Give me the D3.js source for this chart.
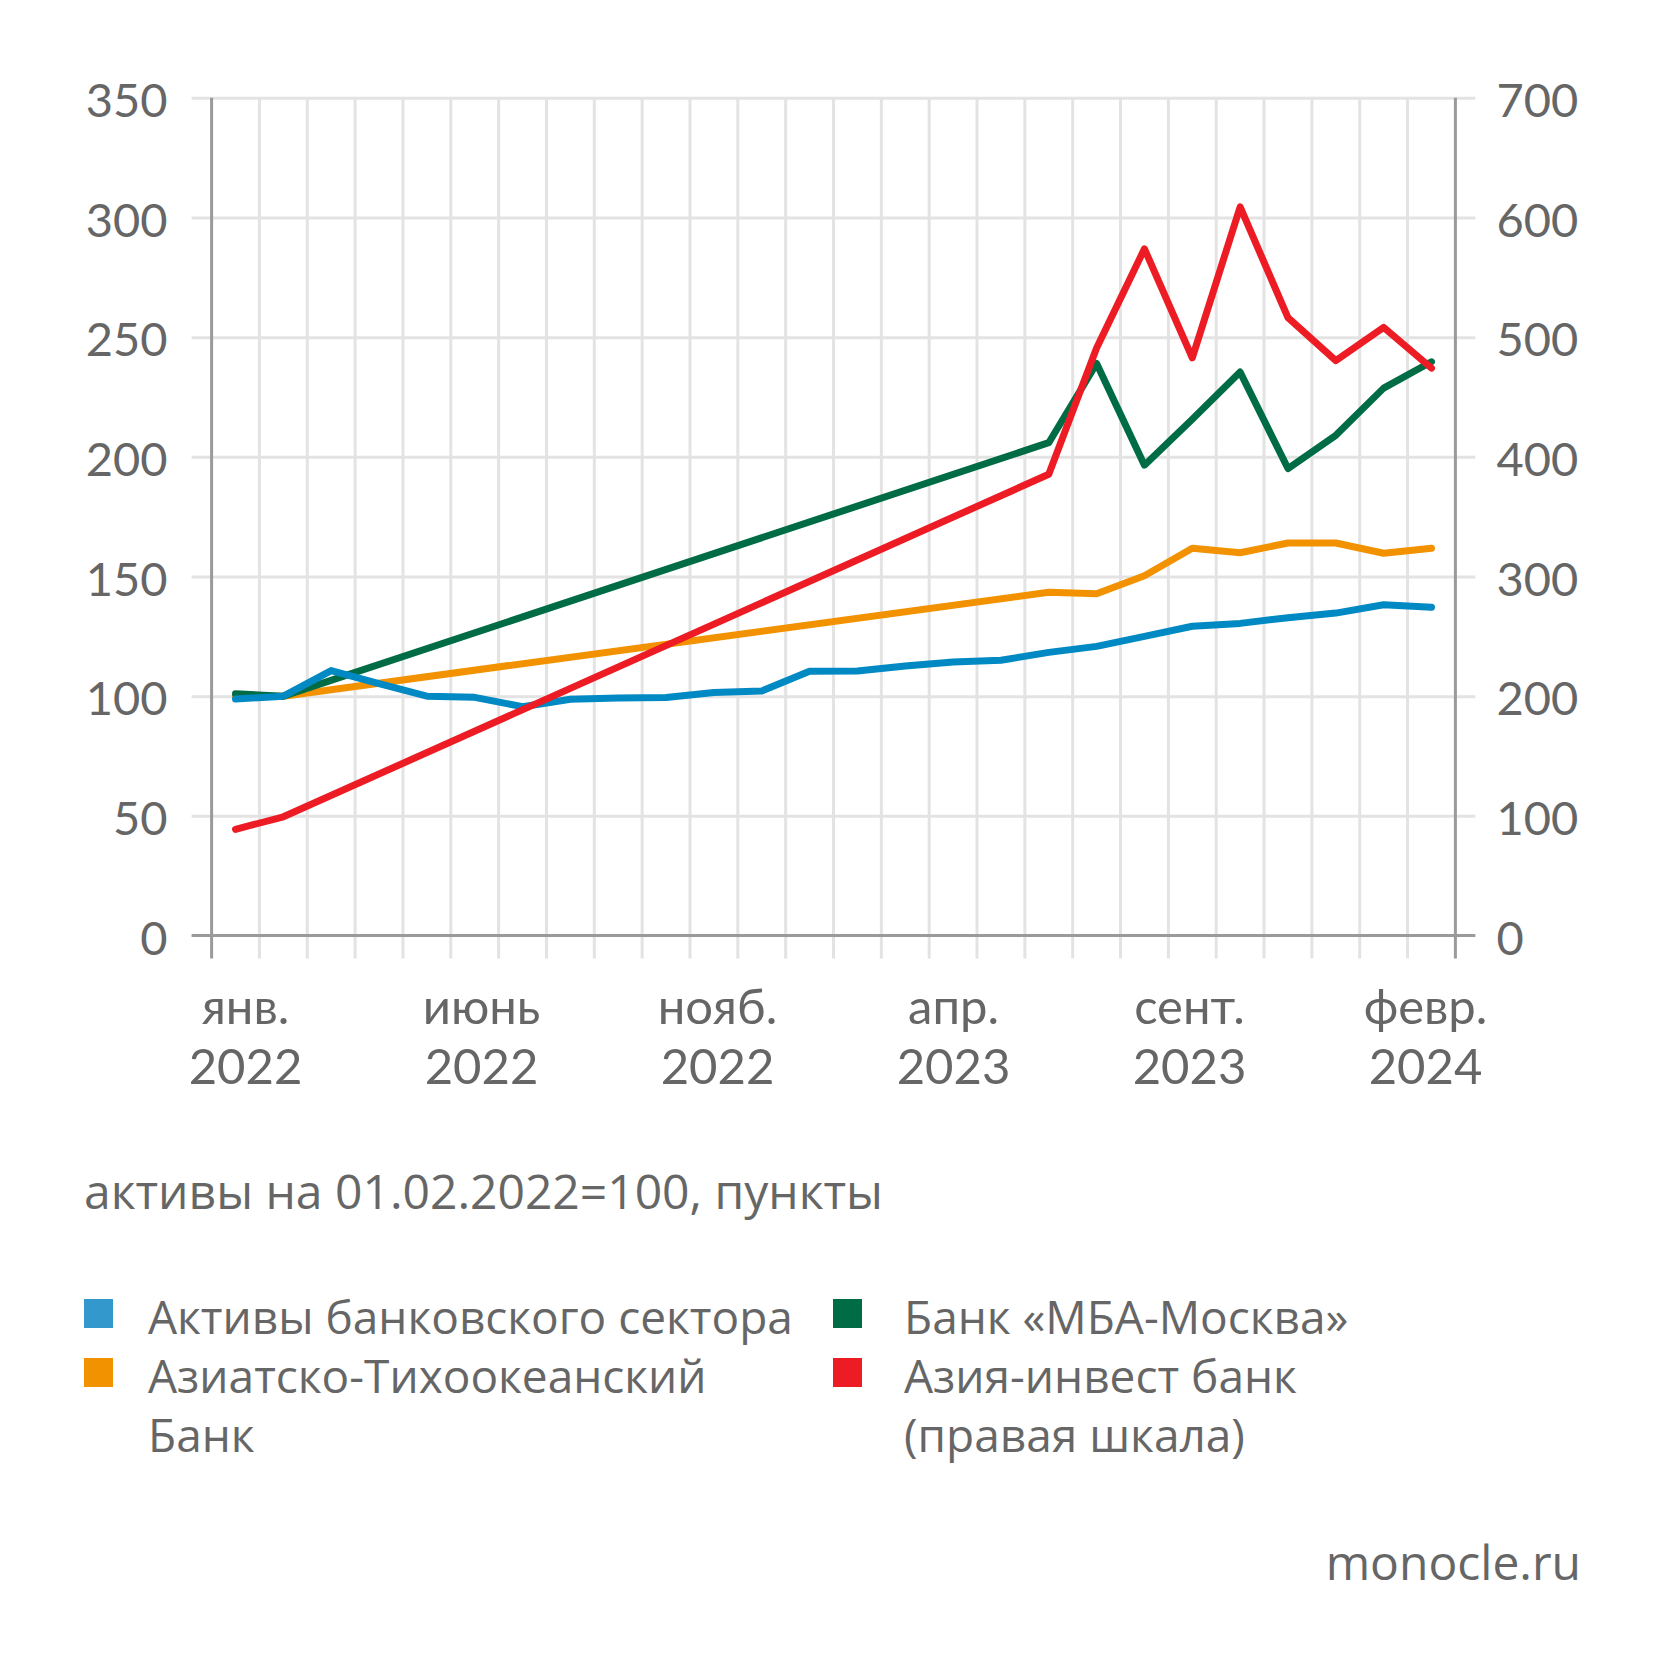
<!DOCTYPE html>
<html>
<head>
<meta charset="utf-8">
<script src="https://cdn.jsdelivr.net/npm/d3@7"></script>
<style>
  html, body { margin: 0; padding: 0; background: #ffffff; }
  svg { display: block; }
  text { font-family: "Open Sans", "Noto Sans", sans-serif; fill: #666666; }
  text.ax { font-family: Lato, "Open Sans", sans-serif; }
</style>
</head>
<body>
<svg id="chart" width="1667" height="1664"></svg>
<script>
// ---- data ----
const months = [
  "янв. 2022","февр. 2022","март 2022","апр. 2022","май 2022","июнь 2022",
  "июль 2022","авг. 2022","сент. 2022","окт. 2022","нояб. 2022","дек. 2022",
  "янв. 2023","февр. 2023","март 2023","апр. 2023","май 2023","июнь 2023",
  "июль 2023","авг. 2023","сент. 2023","окт. 2023","нояб. 2023","дек. 2023",
  "янв. 2024","февр. 2024"
];
const tickMonths = ["янв. 2022","июнь 2022","нояб. 2022","апр. 2023","сент. 2023","февр. 2024"];
const tickLabels = [["янв.","2022"],["июнь","2022"],["нояб.","2022"],["апр.","2023"],["сент.","2023"],["февр.","2024"]];
const leftTicks = [0, 50, 100, 150, 200, 250, 300, 350];
const rightTicks = [0, 100, 200, 300, 400, 500, 600, 700];

// Активы банковского сектора (left scale)
const sectorValues = [98.8, 100, 110.7, 105.2, 100, 99.5, 95.6, 98.7, 99.2, 99.4, 101.5, 102.2,
  110.4, 110.5, 112.6, 114.3, 115.0, 118.3, 120.8, 125.0, 129.2, 130.4, 132.8, 134.7, 138.2, 137.1];
// Азиатско-Тихоокеанский Банк (left scale); null = no data
const atbValues = [100, 100, null, null, null, null, null, null, null, null, null, null,
  null, null, null, null, null, 143.4, 142.8, 150.3, 161.8, 159.9, 164.0, 164.0, 159.7, 161.8];
// Банк «МБА-Москва» (left scale)
const mbaValues = [101, 100, null, null, null, null, null, null, null, null, null, null,
  null, null, null, null, null, 205.9, 239.0, 196.5, 215.7, 235.4, 195.1, 209.0, 228.7, 239.7];
// Азия-инвест банк (right scale)
const aibValues = [88.7, 99.2, null, null, null, null, null, null, null, null, null, null,
  null, null, null, null, null, 385.4, 490.9, 573.8, 482.7, 608.8, 516.3, 480.3, 508.1, 474.1];

const legendLabels = [
  ["Активы банковского сектора"],
  ["Азиатско-Тихоокеанский", "Банк"],
  ["Банк «МБА-Москва»"],
  ["Азия-инвест банк", "(правая шкала)"]
];
const subtitle = "активы на 01.02.2022=100, пункты";
const source = "monocle.ru";

// ---- layout ----
const plot = { left: 211.6, right: 1455.4, top: 97.8, bottom: 935.5 };
const colors = { sector: "#0089c2", sectorKey: "#3399cc", atb: "#f39200", mba: "#006c45", aib: "#ed1c24", grid: "#e3e3e3", axis: "#9a9a9a" };

const svg = d3.select("#chart");

const x = d3.scaleBand().domain(months).range([plot.left, plot.right]).paddingInner(0).paddingOuter(0);
const yL = d3.scaleLinear().domain([0, 350]).range([plot.bottom, plot.top]);
const yR = d3.scaleLinear().domain([0, 700]).range([plot.bottom, plot.top]);
// label placement along the bottom (labels sit evenly across the axis)
const xLabel = d3.scalePoint().domain(tickMonths).range([245, 1425]);

// horizontal gridlines (left axis)
const gridH = svg.append("g")
  .attr("transform", `translate(${plot.left},0)`)
  .call(d3.axisLeft(yL).tickValues(leftTicks.slice(1)).tickSize(-(plot.right - plot.left)).tickFormat(""));
gridH.select(".domain").remove();
gridH.selectAll("line").attr("stroke", colors.grid).attr("stroke-width", 3).attr("x1", -20).attr("x2", plot.right - plot.left + 20);

// vertical gridlines at band boundaries
const boundaries = months.slice(1).map(m => x(m));
svg.append("g").selectAll("line").data(boundaries).join("line")
  .attr("x1", d => d).attr("x2", d => d)
  .attr("y1", plot.top).attr("y2", plot.bottom + 23)
  .attr("stroke", colors.grid).attr("stroke-width", 3);

// bottom axis line
svg.append("line")
  .attr("x1", plot.left - 20).attr("x2", plot.right + 20)
  .attr("y1", plot.bottom).attr("y2", plot.bottom)
  .attr("stroke", colors.axis).attr("stroke-width", 3);
// left & right axes lines
[plot.left, plot.right].forEach(px => {
  svg.append("line")
    .attr("x1", px).attr("x2", px)
    .attr("y1", plot.top).attr("y2", plot.bottom + 23)
    .attr("stroke", colors.axis).attr("stroke-width", 3);
});

// left axis labels
const axL = svg.append("g").attr("transform", `translate(${plot.left},0)`)
  .call(d3.axisLeft(yL).tickValues(leftTicks).tickSize(0).tickPadding(44));
axL.select(".domain").remove();
axL.selectAll("text").attr("class", "ax").style("font-size", "47px").style("fill", "#666").attr("dy", "0.4em");

// right axis labels
const axR = svg.append("g").attr("transform", `translate(${plot.right},0)`)
  .call(d3.axisRight(yR).tickValues(rightTicks).tickSize(0).tickPadding(41));
axR.select(".domain").remove();
axR.selectAll("text").attr("class", "ax").style("font-size", "47px").style("fill", "#666").attr("dy", "0.4em");

// x-axis labels (two lines in one text element)
const axB = svg.append("g").attr("transform", `translate(0,${plot.bottom})`)
  .call(d3.axisBottom(xLabel).tickSize(0).tickFormat(""));
axB.select(".domain").remove();
axB.selectAll(".tick").each(function(d, i) {
  const t = d3.select(this).append("text").attr("class", "ax").attr("text-anchor", "middle").attr("y", 88).style("font-size", "49px");
  t.append("tspan").attr("x", 0).attr("y", 88).text(tickLabels[i][0]);
  t.append("tspan").attr("x", 0).attr("y", 148).text(tickLabels[i][1]);
});

// lines
function drawLine(values, yScale, color) {
  const pts = months.map((m, i) => ({ m, v: values[i] })).filter(p => p.v !== null);
  const line = d3.line().x(p => x(p.m) + x.bandwidth() / 2).y(p => yScale(p.v));
  svg.append("path").datum(pts).attr("d", line)
    .attr("fill", "none").attr("stroke", color).attr("stroke-width", 7)
    .attr("stroke-linejoin", "round").attr("stroke-linecap", "round");
}
drawLine(atbValues, yL, colors.atb);
drawLine(mbaValues, yL, colors.mba);
drawLine(sectorValues, yL, colors.sector);
drawLine(aibValues, yR, colors.aib);

// subtitle
svg.append("text").attr("x", 84).attr("y", 1209).style("font-size", "48px").text(subtitle);

// legend
const legendItems = [
  { col: 0, row: 0, color: colors.sectorKey, lines: legendLabels[0] },
  { col: 0, row: 1, color: colors.atb, lines: legendLabels[1] },
  { col: 1, row: 0, color: colors.mba, lines: legendLabels[2] },
  { col: 1, row: 1, color: colors.aib, lines: legendLabels[3] }
];
const colX = [84, 833];
const textX = [148, 904];
const rowY = [1334, 1393];
const lineH = 59;
legendItems.forEach(it => {
  const g = svg.append("g");
  g.append("rect").attr("x", colX[it.col]).attr("y", rowY[it.row] - 35).attr("width", 29).attr("height", 29).attr("fill", it.color);
  const t = g.append("text").style("font-size", "46px");
  it.lines.forEach((s, k) => {
    t.append("tspan").attr("x", textX[it.col]).attr("y", rowY[it.row] + k * lineH).text(s);
  });
});

// source
svg.append("text").attr("x", 1581).attr("y", 1580).attr("text-anchor", "end")
  .style("font-size", "48px").text(source);
</script>
</body>
</html>
